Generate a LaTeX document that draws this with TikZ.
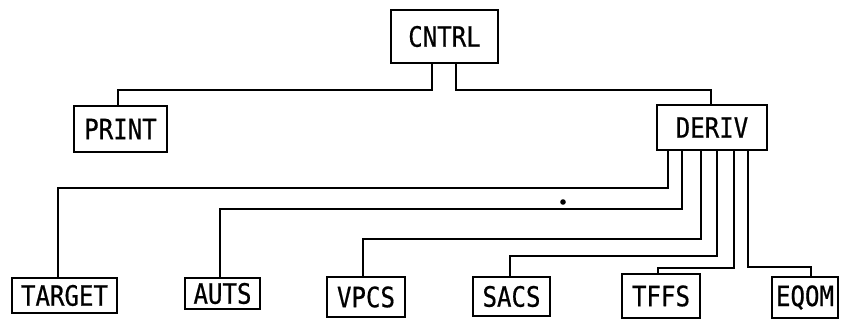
\documentclass[tikz,border=0pt]{standalone}
\usepackage{fontspec}
\newfontfamily\boxfont[FakeStretch=0.86,FakeBold=0.6]{DejaVu Sans Mono}
\begin{document}
\begin{tikzpicture}[x=1pt,y=-1pt,
  box/.style={draw,line width=2pt,inner sep=0pt,font=\boxfont\fontsize{28}{32}\selectfont},
  wire/.style={line width=2pt}]
\useasboundingbox (0,0) rectangle (842,327);
% nodes
\node[box,minimum width=107pt,minimum height=53pt] (cntrl) at (444.5,36.5) {CNTRL};
\node[box,minimum width=93pt,minimum height=46pt] (print) at (120.5,129) {PRINT};
\node[box,minimum width=110pt,minimum height=45pt] (deriv) at (712,127.5) {DERIV};
\node[box,minimum width=105pt,minimum height=35pt] (target) at (64.5,295.5) {TARGET};
\node[box,minimum width=75pt,minimum height=31pt] (auts) at (222.5,293.5) {AUTS};
\node[box,minimum width=78pt,minimum height=40pt] (vpcs) at (366,297) {VPCS};
\node[box,minimum width=77pt,minimum height=39pt] (sacs) at (511.5,296.5) {SACS};
\node[box,minimum width=78pt,minimum height=44pt] (tffs) at (661,296) {TFFS};
\node[box,minimum width=66pt,minimum height=41pt] (eqom) at (805,297.5) {EQOM};
% levels
\coordinate (lvP) at (0,90);
\coordinate (lvT) at (0,188);
\coordinate (lvA) at (0,209);
\coordinate (lvV) at (0,239);
\coordinate (lvS) at (0,256);
\coordinate (lvF) at (0,268);
\coordinate (lvE) at (0,267);
% connectors
\coordinate (c1) at ([xshift=-12.5pt]cntrl.south);
\coordinate (c2) at ([xshift=11.5pt]cntrl.south);
\draw[wire] (c1) -- (c1 |- lvP) -| ([xshift=-2.5pt]print.north);
\draw[wire] (c2) -- (c2 |- lvP) -| ([xshift=-1pt]deriv.north);
\coordinate (d1) at ([xshift=-44pt]deriv.south);
\coordinate (d2) at ([xshift=-30pt]deriv.south);
\coordinate (d3) at ([xshift=-11pt]deriv.south);
\coordinate (d4) at ([xshift=5pt]deriv.south);
\coordinate (d5) at ([xshift=22pt]deriv.south);
\coordinate (d6) at ([xshift=36pt]deriv.south);
\draw[wire] (d1) -- (d1 |- lvT) -| ([xshift=-6.5pt]target.north);
\draw[wire] (d2) -- (d2 |- lvA) -| ([xshift=-2.5pt]auts.north);
\draw[wire] (d3) -- (d3 |- lvV) -| ([xshift=-3pt]vpcs.north);
\draw[wire] (d4) -- (d4 |- lvS) -| ([xshift=-1.5pt]sacs.north);
\draw[wire] (d5) -- (d5 |- lvF) -| ([xshift=-3pt]tffs.north);
\draw[wire] (d6) -- (d6 |- lvE) -| ([xshift=6pt]eqom.north);
% speck
\fill (563,202) circle (2.8pt);
\end{tikzpicture}
\end{document}
